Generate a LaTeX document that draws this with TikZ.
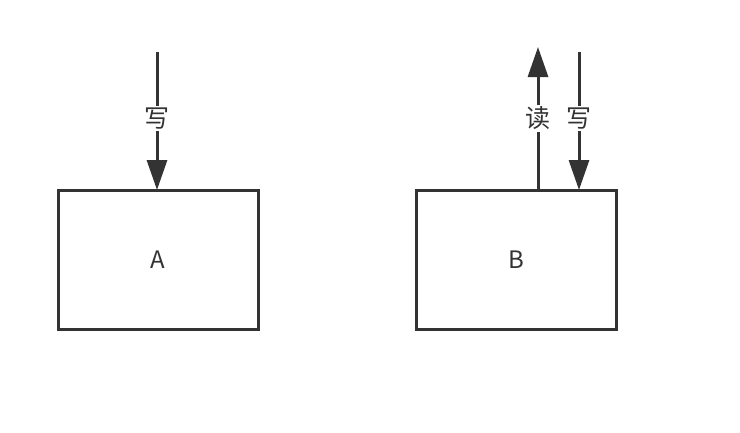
\documentclass[tikz,border=0pt]{standalone}
\usepackage{fontspec}
\setmainfont{Noto Sans CJK SC}
\usetikzlibrary{arrows.meta}
\definecolor{ink}{HTML}{333333}
\begin{document}
\begin{tikzpicture}[x=1pt,y=-1pt,
  boxnode/.style={draw=ink,line width=3pt,minimum width=200pt,minimum height=139pt,inner sep=0pt,outer sep=0pt,font=\fontsize{24}{28}\selectfont,text=ink},
  flow/.style={draw=ink,line width=3pt,-{Triangle[length=30pt,width=20pt]}},
  lbl/.style={fill=white,inner sep=2pt,font=\fontsize{25}{29}\selectfont,text=ink}]
\useasboundingbox (0,0) rectangle (740,432);
\node[boxnode] (A) at (158,259.5) {A};
\node[boxnode] (B) at (516,259.5) {B};
\coordinate (a0) at (157,52);
\coordinate (bu) at (538,47);
\coordinate (bd) at (579,52);
\draw[flow] (a0) -- (a0 |- A.north) node[lbl,pos=0.48] (wa) {写};
\draw[flow] (bu |- B.north) -- (bu) node[lbl,pos=0.5] (rb) {读};
\draw[flow] (bd) -- (bd |- B.north) node[lbl,pos=0.48] (wb) {写};
\end{tikzpicture}
\end{document}
